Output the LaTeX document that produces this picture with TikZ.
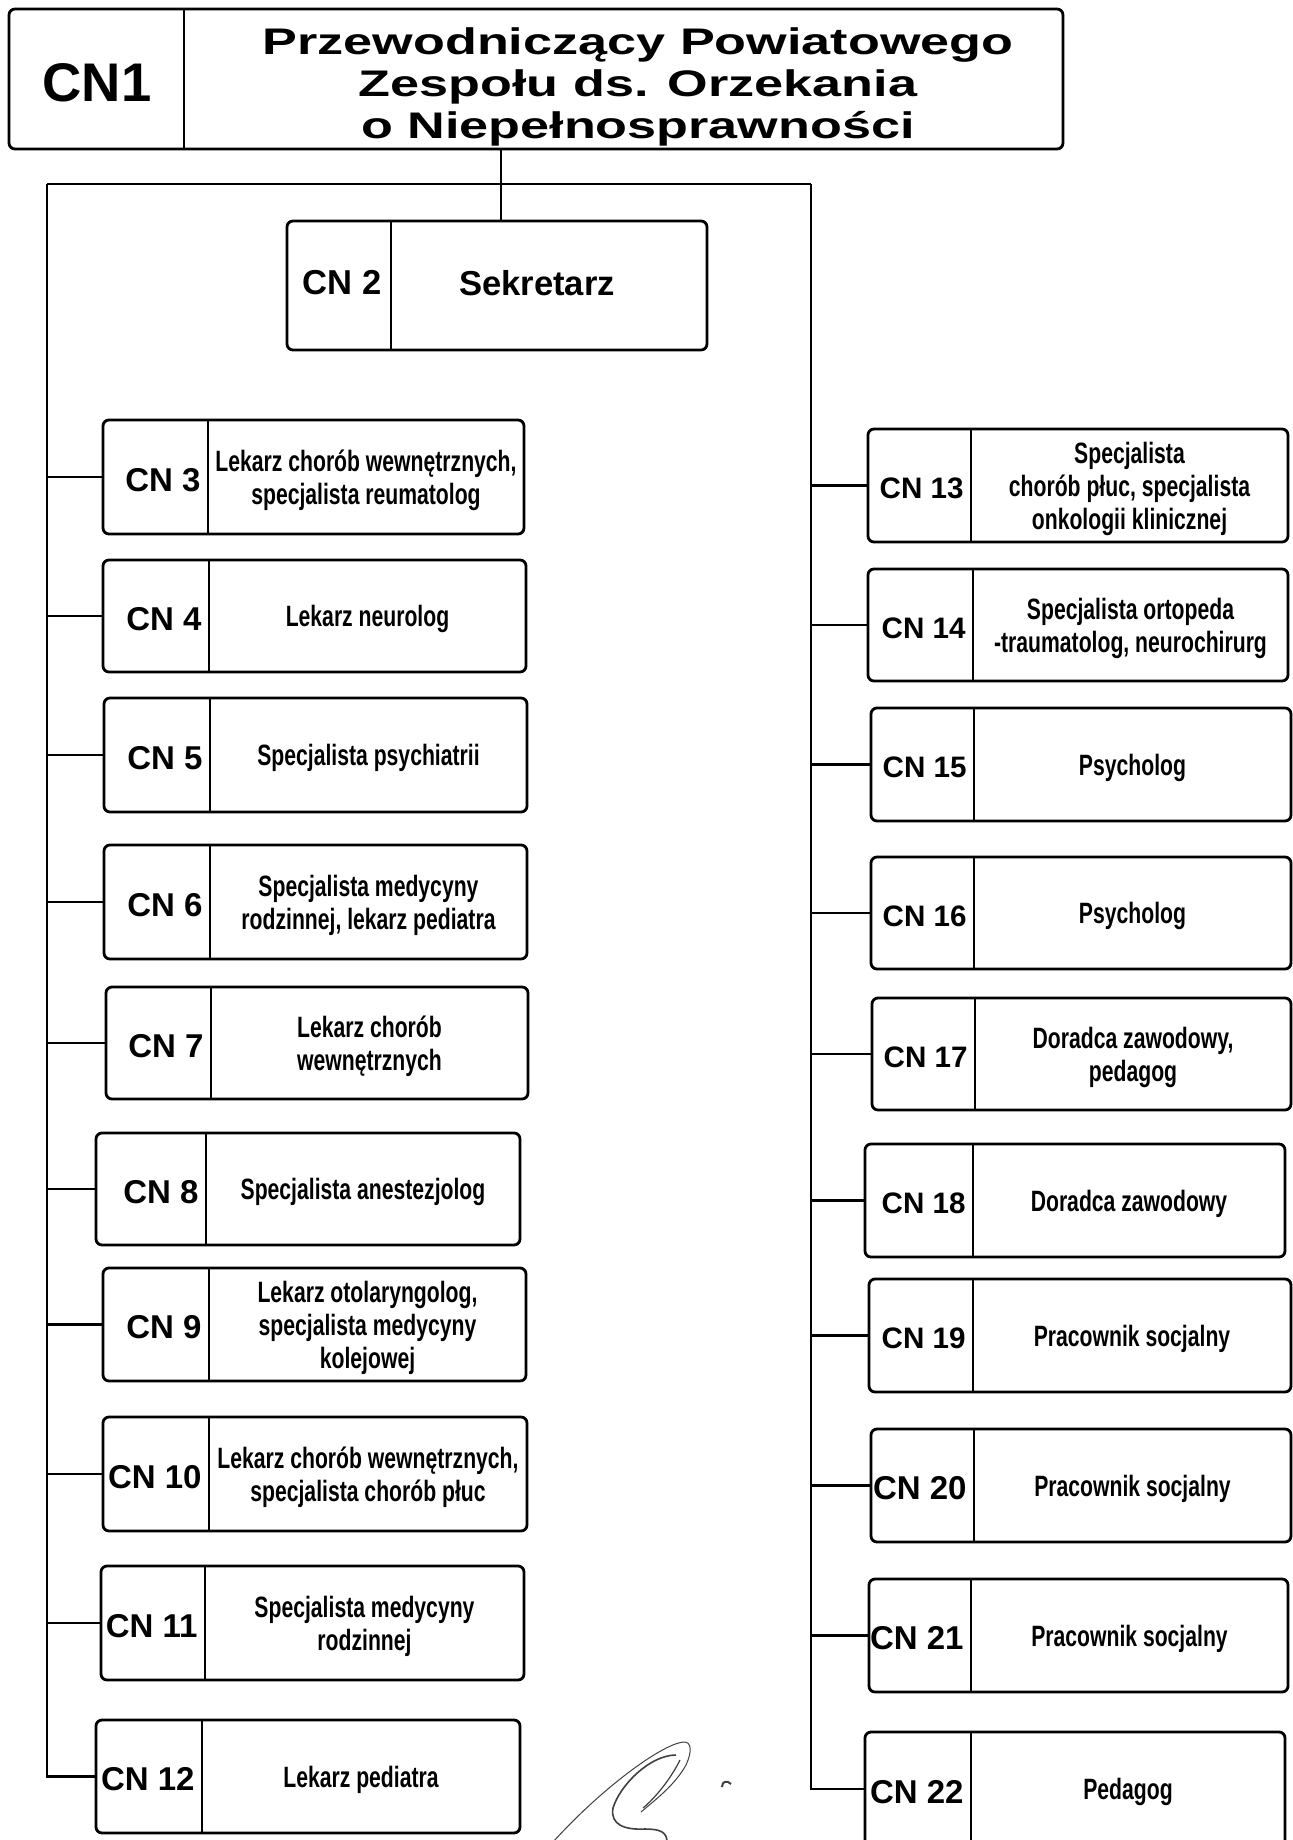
\documentclass[tikz,border=0pt]{standalone}
\usepackage{fontspec}
\setmainfont{Liberation Sans}
\newfontfamily\narrowfont[FakeStretch=0.72]{Liberation Sans}
\newfontfamily\widefont[FakeStretch=1.41]{Liberation Sans}
\usetikzlibrary{fit}
\tikzset{
  ubox/.style={draw=black, line width=1.4pt, rounded corners=3pt, inner sep=0pt, fill=white},
  divline/.style={draw=black, line width=1.1pt},
  conn/.style={draw=black, line width=1.2pt},
  cnlab/.style={inner sep=0pt, font=\bfseries\fontsize{16.5}{18}\selectfont},
  desc/.style={inner sep=0pt, align=center, font=\narrowfont\bfseries\fontsize{14.7}{16.5}\selectfont},
  sig/.style={draw=black!75, line width=0.6pt}
}
\newcommand\orgbox[8]{%
  \node[ubox, fit={(#2,#3) (#4,#5)}] (#1) {};
  \draw[divline] (#6,#3) -- (#6,#5);
  \node[cnlab, anchor=east] (#1l) at ({#6-7},{(#3+#5)/2+3}) {#7};
  \node[desc] (#1t) at ({(#6+#4)/2},{(#3+#5)/2+3}) {#8};
}
\newcommand\smallcn[1]{{\fontsize{14.8}{16}\selectfont #1}}
\begin{document}
\begin{tikzpicture}[x=0.5pt, y=-0.5pt]
\useasboundingbox[fill=white] (0,0) rectangle (1293,1840);
\begin{scope}
\clip (0,0) rectangle (1293,1840);
% CN1
\node[ubox, fit={(9,9) (1063,149)}] (CN1) {};
\draw[divline] (184,9) -- (184,149);
\node[inner sep=0pt, font=\bfseries\fontsize{27.2}{30}\selectfont] (CN1l) at (97,83) {CN1};
\node[inner sep=0pt, align=center, font=\widefont\bfseries\fontsize{18.5}{21}\selectfont] (CN1t) at (638,87)
  {Przewodniczący Powiatowego\\Zespołu ds. Orzekania\\o Niepełnosprawności};
% CN2
\node[ubox, fit={(287,221) (707,350)}] (CN2) {};
\draw[divline] (391,221) -- (391,350);
\node[inner sep=0pt, anchor=east, font=\bfseries\fontsize{17.3}{19}\selectfont] (CN2l) at (382,283) {CN 2};
\node[inner sep=0pt, font=\bfseries\fontsize{17.3}{19}\selectfont] (CN2t) at (537,283) {Sekretarz};
% left column
\orgbox{CN3}{103}{420}{524}{534}{208}{CN 3}{Lekarz chorób wewnętrznych,\\specjalista reumatolog}
\orgbox{CN4}{103}{560}{526}{672}{209}{CN 4}{Lekarz neurolog}
\orgbox{CN5}{104}{698}{527}{812}{210}{CN 5}{Specjalista psychiatrii}
\orgbox{CN6}{104}{845}{527}{959}{210}{CN 6}{Specjalista medycyny\\rodzinnej, lekarz pediatra}
\orgbox{CN7}{106}{987}{528}{1099}{211}{CN 7}{Lekarz chorób\\wewnętrznych}
\orgbox{CN8}{96}{1133}{520}{1245}{206}{CN 8}{Specjalista anestezjolog}
\orgbox{CN9}{103}{1268}{526}{1381}{209}{CN 9}{Lekarz otolaryngolog,\\specjalista medycyny\\kolejowej}
\orgbox{CN10}{103}{1417}{527}{1531}{209}{CN 10}{Lekarz chorób wewnętrznych,\\specjalista chorób płuc}
\orgbox{CN11}{101}{1566}{524}{1680}{205}{CN 11}{Specjalista medycyny\\rodzinnej}
\orgbox{CN12}{96}{1720}{520}{1833}{202}{CN 12}{Lekarz pediatra}
% right column
\orgbox{CN13}{868}{429}{1288}{542}{971}{\smallcn{CN 13}}{Specjalista\\chorób płuc, specjalista\\onkologii klinicznej}
\orgbox{CN14}{868}{569}{1288}{681}{973}{\smallcn{CN 14}}{Specjalista ortopeda\\-traumatolog, neurochirurg}
\orgbox{CN15}{871}{708}{1291}{821}{974}{\smallcn{CN 15}}{Psycholog}
\orgbox{CN16}{871}{857}{1291}{969}{974}{\smallcn{CN 16}}{Psycholog}
\orgbox{CN17}{872}{998}{1291}{1110}{975}{\smallcn{CN 17}}{Doradca zawodowy,\\pedagog}
\orgbox{CN18}{865}{1144}{1285}{1257}{973}{\smallcn{CN 18}}{Doradca zawodowy}
\orgbox{CN19}{869}{1279}{1291}{1392}{973}{\smallcn{CN 19}}{Pracownik socjalny}
\orgbox{CN20}{871}{1429}{1291}{1542}{974}{CN 20}{Pracownik socjalny}
\orgbox{CN21}{869}{1579}{1288}{1692}{971}{CN 21}{Pracownik socjalny}
\orgbox{CN22}{865}{1732}{1285}{1846}{971}{CN 22}{Pedagog}
% connectors
\coordinate (J) at (501,184);
\coordinate (LT) at (47,184);
\coordinate (RT) at (811,184);
\draw[conn] (J |- CN1.south) -- (J |- CN2.north);
\draw[conn] (LT) -- (RT);
\draw[conn] (LT) |- (CN12.west);
\foreach \n in {3,...,11} {\draw[conn] (LT |- CN\n.west) -- (CN\n.west);}
\draw[conn] (RT) |- (CN22.west);
\foreach \n in {13,...,21} {\draw[conn] (RT |- CN\n.west) -- (CN\n.west);}
% signature
\draw[sig, line width=0.5pt] (553,1842) .. controls (600,1790) and (660,1745) .. (683,1742)
  .. controls (692,1741) and (692,1752) .. (686,1765)
  .. controls (675,1785) and (655,1800) .. (641,1812);
\draw[sig, line width=0.8pt] (676,1755) .. controls (650,1755) and (620,1785) .. (613,1808)
  .. controls (610,1825) and (625,1830) .. (645,1829)
  .. controls (660,1829) and (667,1832) .. (667,1842);
\draw[sig] (680,1760) .. controls (670,1780) and (655,1798) .. (643,1808);
\draw[sig, line width=1pt] (722,1787) .. controls (722,1781) and (727,1780) .. (731,1784);
\end{scope}
\end{tikzpicture}
\end{document}
